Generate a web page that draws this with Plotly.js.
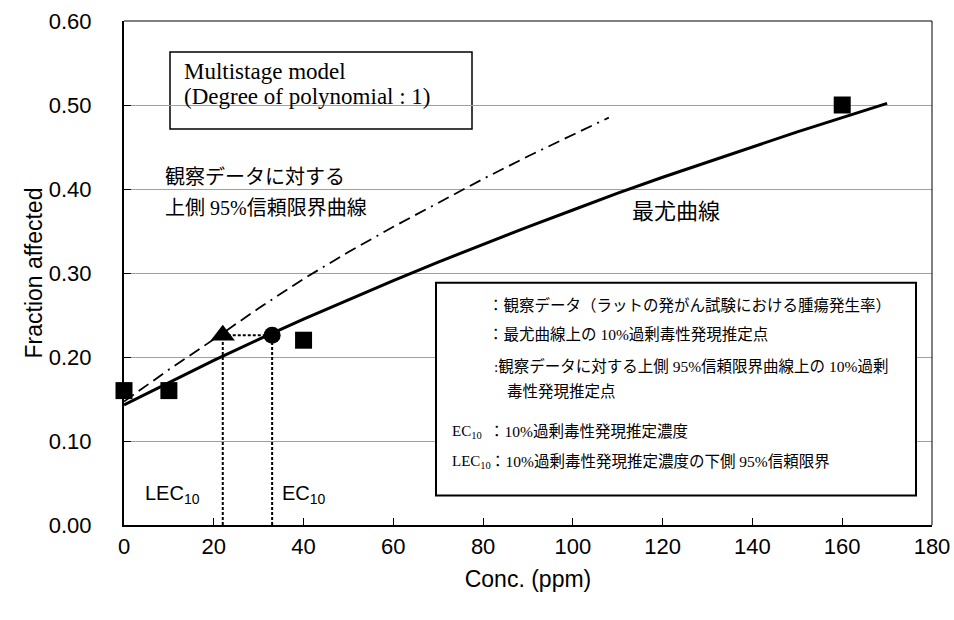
<!DOCTYPE html>
<html>
<head>
<meta charset="utf-8">
<script src="https://cdn.plot.ly/plotly-3.0.1.min.js"></script>
<style>html,body{margin:0;padding:0;background:#fff;}#chart{width:954px;height:620px;}</style>
</head>
<body>
<div id="chart"></div>
<script>
// Observed data (rat carcinogenicity study, tumour incidence)
const obsConc = [0, 10, 40, 160];
const obsFrac = [0.16, 0.16, 0.22, 0.50];

// Maximum-likelihood curve
const mlConc = [0, 10, 20, 30, 40, 50, 60, 70, 80, 90, 100, 110, 120, 130, 140, 150, 160, 170];
const mlFrac = [0.143, 0.170, 0.196, 0.221, 0.245, 0.268, 0.291, 0.313, 0.334, 0.355, 0.375, 0.395, 0.414, 0.432, 0.450, 0.468, 0.485, 0.502];

// Upper 95% confidence limit curve
const ucConc = [0, 10, 20, 30, 40, 50, 60, 70, 80, 90, 100, 108];
const ucFrac = [0.147, 0.185, 0.221, 0.258, 0.293, 0.325, 0.355, 0.384, 0.412, 0.439, 0.465, 0.485];

// Benchmark points
const lec10 = 22;
const ec10 = 33;
const bmrFrac = 0.226;

// Axis ticks
const xTicks = [0, 20, 40, 60, 80, 100, 120, 140, 160, 180];
const yTicks = [0.0, 0.1, 0.2, 0.3, 0.4, 0.5, 0.6];

const MIX = "'Liberation Serif', 'Noto Sans CJK JP', serif";
const SANS = "'Liberation Sans', Arial, sans-serif";

const traces = [
  {x: ucConc, y: ucFrac, mode: 'lines', line: {color: '#000', width: 1.8, dash: '12px,6px,12px,6px,12px,6px,2px,6px'}, hoverinfo: 'skip'},
  {x: mlConc, y: mlFrac, mode: 'lines', line: {color: '#000', width: 3}, hoverinfo: 'skip'},
  {x: [lec10, lec10], y: [0, bmrFrac], mode: 'lines', line: {color: '#000', width: 2, dash: '3px,2px'}, hoverinfo: 'skip'},
  {x: [ec10, ec10], y: [0, bmrFrac], mode: 'lines', line: {color: '#000', width: 2, dash: '3px,2px'}, hoverinfo: 'skip'},
  {x: [lec10, ec10], y: [bmrFrac, bmrFrac], mode: 'lines', line: {color: '#000', width: 2, dash: '3px,2px'}, hoverinfo: 'skip'},
  {x: obsConc, y: obsFrac, mode: 'markers', marker: {symbol: 'square', size: 17, color: '#000'}, cliponaxis: false},
  {x: [ec10], y: [bmrFrac], mode: 'markers', marker: {symbol: 'circle', size: 17, color: '#000'}},
  {x: [lec10], y: [bmrFrac], mode: 'markers', marker: {symbol: 'triangle-up', size: 21, color: '#000'}}
];

const PL = 124, PR = 932, PT = 21, PB = 525.5;
const px = v => (v - PL) / (PR - PL);
const py = v => (PB - v) / (PB - PT);

function ann(text, x, y, opts) {
  return Object.assign({text: text, xref: 'paper', yref: 'paper', x: px(x), y: py(y),
    xanchor: 'left', yanchor: 'middle', showarrow: false,
    font: {family: MIX, size: 15.5, color: '#000'}}, opts || {});
}

const annotations = [
  ann('Multistage model', 182, 72, {font: {family: MIX, size: 23, color: '#000'}}),
  ann('(Degree of polynomial : 1)', 182, 97, {font: {family: MIX, size: 23, color: '#000'}}),
  ann('観察データに対する', 163, 177, {font: {family: MIX, size: 20, color: '#000'}}),
  ann('上側 95%信頼限界曲線', 163, 208, {font: {family: MIX, size: 20, color: '#000'}}),
  ann('最尤曲線', 676, 212, {xanchor: 'center', font: {family: MIX, size: 22, color: '#000'}}),
  ann('LEC<sub>10</sub>', 172, 495, {xanchor: 'center', font: {family: SANS, size: 20, color: '#000'}}),
  ann('EC<sub>10</sub>', 304, 495, {xanchor: 'center', font: {family: SANS, size: 20, color: '#000'}}),
  ann('：観察データ（ラットの発がん試験における腫瘍発生率）', 486, 305),
  ann('：最尤曲線上の 10%過剰毒性発現推定点', 486, 335),
  ann(':観察データに対する上側 95%信頼限界曲線上の 10%過剰', 492, 366),
  ann('毒性発現推定点', 505, 392),
  ann('EC<sub>10</sub>', 450, 432, {font: {family: MIX, size: 15, color: '#000'}}),
  ann('：10%過剰毒性発現推定濃度', 487, 432),
  ann('LEC<sub>10</sub>', 450, 462, {font: {family: MIX, size: 15, color: '#000'}}),
  ann('：10%過剰毒性発現推定濃度の下側 95%信頼限界', 488, 462)
];

const shapes = [
  {type: 'rect', xref: 'paper', yref: 'paper', x0: px(170), x1: px(472), y0: py(129), y1: py(52),
   line: {color: '#000', width: 1.5}, fillcolor: '#fff', layer: 'below'},
  {type: 'rect', xref: 'paper', yref: 'paper', x0: px(436), x1: px(916), y0: py(496), y1: py(283),
   line: {color: '#000', width: 2}, fillcolor: '#fff', layer: 'above'},
  {type: 'line', xref: 'paper', yref: 'paper', x0: 0, x1: 1, y0: 1, y1: 1, line: {color: '#000', width: 1}},
  {type: 'line', xref: 'paper', yref: 'paper', x0: 1, x1: 1, y0: 0, y1: 1, line: {color: '#000', width: 1}}
];

const layout = {
  width: 954, height: 620,
  margin: {l: PL, r: 954 - PR, t: PT, b: 620 - PB},
  paper_bgcolor: '#fff', plot_bgcolor: '#fff',
  showlegend: false,
  font: {family: SANS, size: 22, color: '#000'},
  xaxis: {
    range: [0, 180], tickvals: xTicks, ticktext: xTicks.map(String),
    ticks: 'inside', ticklen: 7, tickwidth: 1, tickcolor: '#000',
    showline: true, linecolor: '#000', linewidth: 2,
    showgrid: false, zeroline: false,
    tickfont: {family: SANS, size: 22, color: '#000'},
    ticklabelstandoff: 1,
    title: {text: 'Conc. (ppm)', font: {family: SANS, size: 23, color: '#000'}, standoff: 12}
  },
  yaxis: {
    range: [0, 0.6], tickvals: yTicks, ticktext: yTicks.map(v => v.toFixed(2)),
    ticks: 'inside', ticklen: 7, tickwidth: 1, tickcolor: '#000',
    showline: true, linecolor: '#000', linewidth: 2,
    showgrid: true, gridcolor: '#a0a0a0', gridwidth: 1, zeroline: false,
    tickfont: {family: SANS, size: 22, color: '#000'},
    ticklabelstandoff: 26,
    title: {text: 'Fraction affected', font: {family: SANS, size: 23, color: '#000'}, standoff: 0}
  },
  annotations: annotations,
  shapes: shapes
};

Plotly.newPlot('chart', traces, layout, {displayModeBar: false, staticPlot: true});
</script>
</body>
</html>
